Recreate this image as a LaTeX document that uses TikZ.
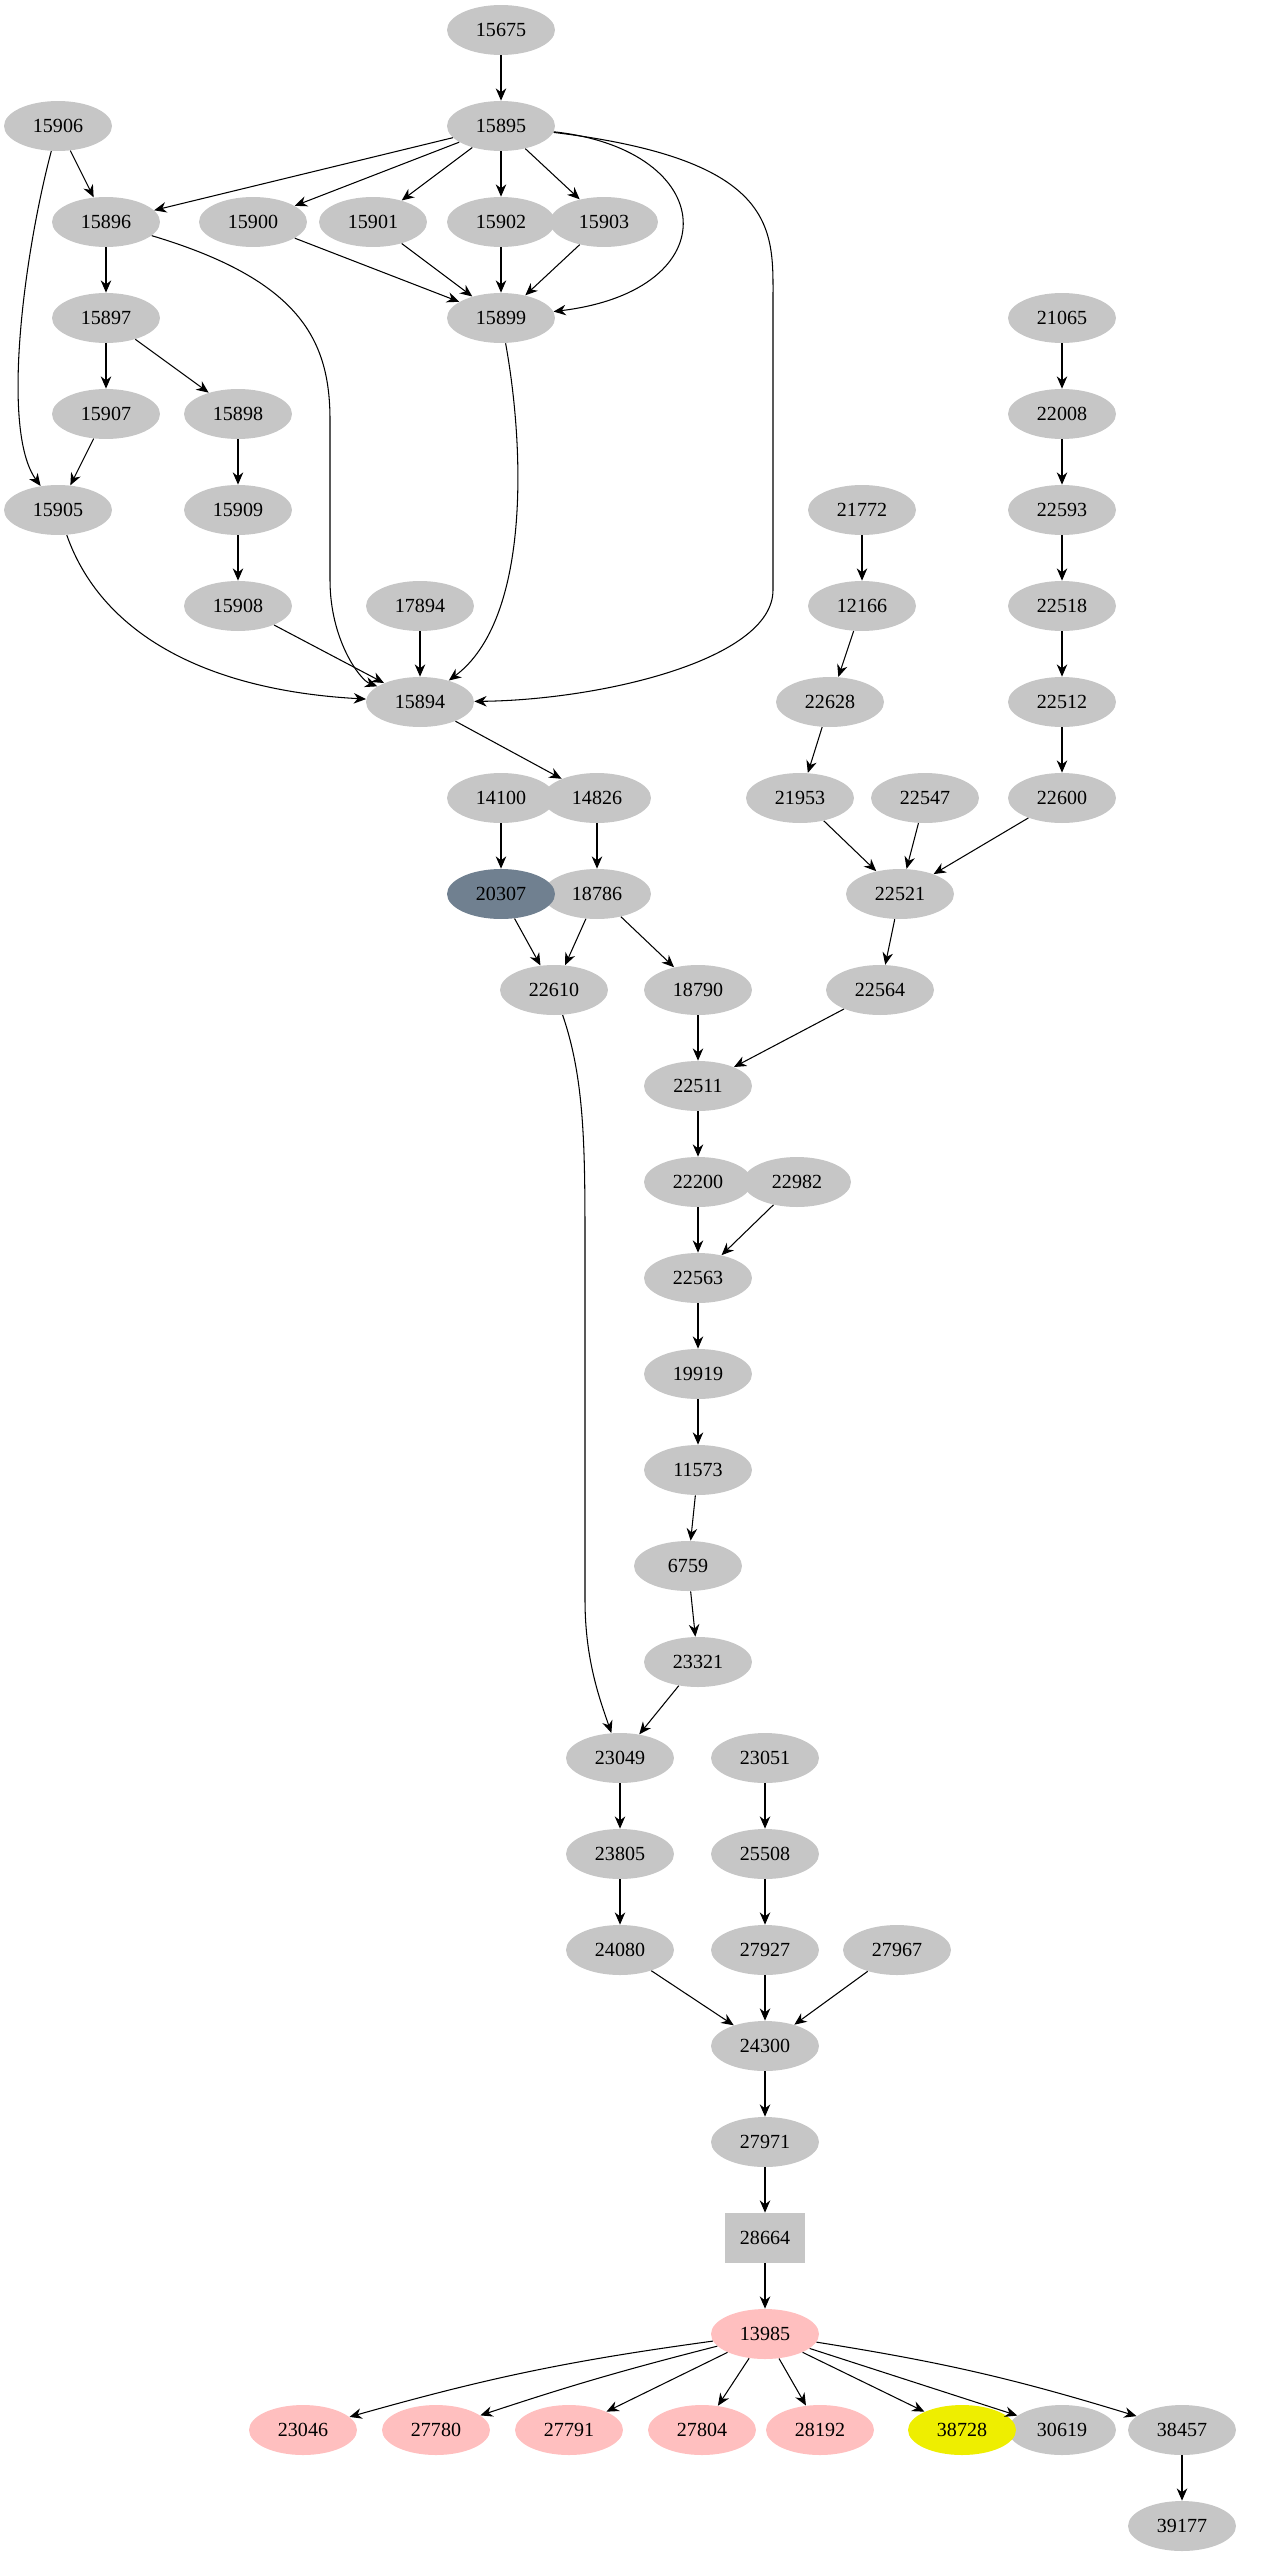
\documentclass[tikz,border=0pt]{standalone}
\usepackage{fontspec}
\setmainfont{Liberation Serif}
\usetikzlibrary{arrows.meta,shapes.geometric}
\tikzset{
  nd/.style={ellipse, fill=lightgray!90, minimum width=2.16cm, minimum height=1cm, inner sep=0pt, font=\fontsize{11.4}{13}\selectfont},
  pk/.style={nd, fill=pink},
  bx/.style={rectangle, fill=lightgray!90, minimum width=1.6cm, minimum height=1cm, inner sep=0pt, font=\fontsize{11.4}{13}\selectfont},
  ed/.style={-{Stealth[length=7pt,width=6pt]}, semithick}
}
\begin{document}
\begin{tikzpicture}[x=0.02cm,y=-0.02cm]
\useasboundingbox (0,0) rectangle (1286,2555);
% gray nodes
\foreach \n/\x/\y in {15675/501/30, 15906/58/126, 15895/501/126, 15896/106/222, 15900/253/222,
  15901/373/222, 15902/501/222, 15903/604/222, 15899/501/318, 21065/1062/318, 15897/106/318,
  15907/106/414, 15898/238/414, 22008/1062/414, 15905/58/510, 15909/238/510, 21772/862/510,
  22593/1062/510, 15908/238/606, 17894/420/606, 12166/862/606, 22518/1062/606, 15894/420/702,
  22628/830/702, 22512/1062/702, 14100/501/798, 14826/597/798, 21953/800/798, 22547/925/798,
  22600/1062/798, 18786/597/894, 22521/900/894, 22610/554/990, 18790/698/990, 22564/880/990,
  22511/698/1086, 22200/698/1182, 22982/797/1182, 22563/698/1278, 19919/698/1374,
  11573/698/1470, 6759/688/1566, 23321/698/1662, 23049/620/1758, 23051/765/1758,
  23805/620/1854, 25508/765/1854, 24080/620/1950, 27927/765/1950, 27967/897/1950,
  24300/765/2046, 27971/765/2142, 30619/1062/2430, 38457/1182/2430, 39177/1182/2526}
  \node[nd] (n\n) at (\x,\y) {\n};
\node[nd, fill={rgb,255:red,112;green,128;blue,144}] (n20307) at (501,894) {20307};
\node[bx] (n28664) at (765,2238) {28664};
% pink nodes
\node[pk] (n13985) at (765,2334) {13985};
\foreach \n/\x in {23046/303, 27780/436, 27791/569, 27804/702, 28192/820}
  \node[pk] (n\n) at (\x,2430) {\n};
\node[nd, fill={rgb,255:red,238;green,238;blue,0}] (n38728) at (962,2430) {38728};

% straight edges
\foreach \a/\b in {15675/15895, 15906/15896, 15895/15896, 15895/15900, 15895/15901, 15895/15902,
  15895/15903, 15900/15899, 15901/15899, 15902/15899, 15903/15899, 15896/15897, 15897/15907,
  15897/15898, 15907/15905, 15898/15909, 15909/15908, 15908/15894, 17894/15894, 15894/14826,
  21065/22008, 22008/22593, 22593/22518, 22518/22512, 22512/22600, 21772/12166, 12166/22628,
  22628/21953, 21953/22521, 22547/22521, 22600/22521, 22521/22564, 14100/20307, 14826/18786,
  20307/22610, 18786/22610, 18786/18790, 18790/22511, 22564/22511, 22511/22200, 22200/22563,
  22982/22563, 22563/19919, 19919/11573, 11573/6759, 6759/23321, 23321/23049, 23049/23805,
  23805/24080, 23051/25508, 25508/27927, 24080/24300, 27927/24300, 27967/24300, 24300/27971,
  27971/28664, 28664/13985, 13985/27791, 13985/27804, 13985/28192, 13985/38728, 13985/30619,
  38457/39177}
  \draw[ed] (n\a) -- (n\b);
% curved edges
\draw[ed] (n13985) to[bend right=4] (n23046);
\draw[ed] (n13985) to[bend right=2] (n27780);
\draw[ed] (n13985) to[bend left=4] (n38457);
\draw[ed] (n15895) .. controls (720,150) and (730,290) .. (n15899);
\draw[ed] (n15895) .. controls (780,160) and (773,230) .. (773,300) -- (773,590)
  .. controls (773,660) and (600,700) .. (n15894);
\draw[ed] (n15896) .. controls (300,280) and (330,340) .. (330,420) -- (330,580)
  .. controls (330,640) and (360,680) .. (n15894);
\draw[ed] (n15906) .. controls (25,250) and (0,430) .. (n15905);
\draw[ed] (n15899) .. controls (525,450) and (530,620) .. (n15894);
\draw[ed] (n15905) .. controls (100,630) and (200,690) .. (n15894);
\draw[ed] (n22610) .. controls (585,1080) and (585,1150) .. (585,1250) -- (585,1600)
  .. controls (585,1660) and (600,1700) .. (n23049);
\end{tikzpicture}
\end{document}
